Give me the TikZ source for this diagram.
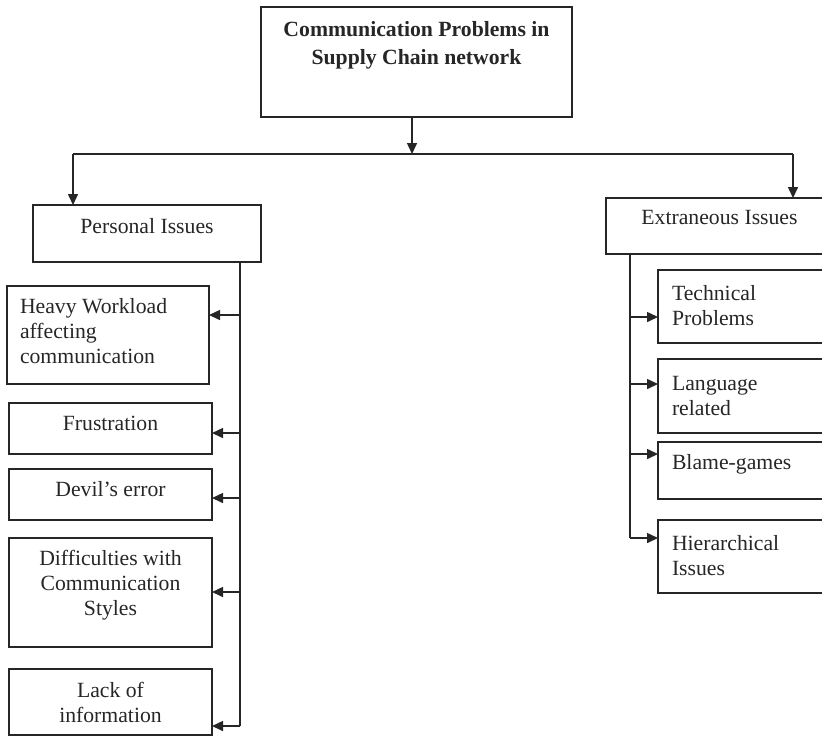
\documentclass[tikz,border=0pt]{standalone}
\usepackage{fontspec}
\setmainfont{Liberation Serif}
\usetikzlibrary{arrows.meta}
\begin{document}
\begin{tikzpicture}[x=0.5pt,y=-0.5pt,
  box/.style={draw=black!85,line width=0.8pt,inner sep=0pt,outer sep=0pt},
  txt/.style={inner sep=0pt,outer sep=0pt,text=black!85,font=\fontsize{10.85}{12.5}\selectfont},
  ttl/.style={inner sep=0pt,outer sep=0pt,text=black!85,font=\fontsize{10.85}{13.6}\selectfont\bfseries,align=center,anchor=base},
  ln/.style={draw=black!85,line width=0.75pt},
  arr/.style={ln,-{Triangle[length=5.5pt,width=5pt]}}]
\clip (0,0) rectangle (822,745);
% boxes
\node[box,minimum width=155.5pt,minimum height=55pt] (top) at (416.5,62) {};
\node[box,minimum width=114pt,minimum height=28.5pt] (pers) at (147,233.5) {};
\node[box,minimum width=113.5pt,minimum height=28pt] (extr) at (719.5,226) {};
\node[box,minimum width=101pt,minimum height=49pt] (heavy) at (108,335) {};
\node[box,minimum width=101.5pt,minimum height=25.5pt] (frust) at (110.5,428.5) {};
\node[box,minimum width=101.5pt,minimum height=25.5pt] (devil) at (110.5,494.5) {};
\node[box,minimum width=101.5pt,minimum height=54.5pt] (diff) at (110.5,592.5) {};
\node[box,minimum width=101.5pt,minimum height=33pt] (lack) at (110.5,702) {};
\node[box,minimum width=87.5pt,minimum height=36.5pt] (tech) at (745.5,306.5) {};
\node[box,minimum width=87.5pt,minimum height=37pt] (lang) at (745.5,396) {};
\node[box,minimum width=87.5pt,minimum height=28.5pt] (blame) at (745.5,470.5) {};
\node[box,minimum width=87.5pt,minimum height=36.5pt] (hier) at (745.5,556.5) {};
% texts (multi-line nodes: base = last line)
\node[ttl] (ttop) at (416.5,64) {Communication Problems in\\Supply Chain network};
\node[txt,anchor=base] (tpers) at (147,233) {Personal Issues};
\node[txt,anchor=base] (textr) at (719.5,224) {Extraneous Issues};
\node[txt,anchor=base west,align=left] (theavy) at (20,363) {Heavy Workload\\affecting\\communication};
\node[txt,anchor=base] (tfrust) at (110.5,430) {Frustration};
\node[txt,anchor=base] (tdevil) at (110.5,496) {Devil’s error};
\node[txt,anchor=base,align=center] (tdiff) at (110.5,615) {Difficulties with\\Communication\\Styles};
\node[txt,anchor=base,align=center] (tlack) at (110.5,722) {Lack of\\information};
\node[txt,anchor=base west,align=left] (ttech) at (672,325) {Technical\\Problems};
\node[txt,anchor=base west,align=left] (tlang) at (672,415) {Language\\related};
\node[txt,anchor=base west] (tblame) at (672,469) {Blame-games};
\node[txt,anchor=base west,align=left] (thier) at (672,575) {Hierarchical\\Issues};
% top connectors
\coordinate (hm) at (412,154);
\coordinate (hl) at (73,154);
\coordinate (hr) at (793,154);
\draw[arr] (top.south -| hm) -- (hm);
\draw[ln] (hl) -- (hr);
\draw[arr] (hl) -- (hl |- pers.north);
\draw[arr] (hr) -- (hr |- extr.north);
% personal branch
\coordinate (pv) at (240,262);
\coordinate (pe) at (240,726);
\draw[ln] (pv) -- (pe);
\coordinate (p1) at (240,315);
\coordinate (p2) at (240,433);
\coordinate (p3) at (240,498);
\coordinate (p4) at (240,592);
\draw[arr] (p1) -- (p1 -| heavy.east);
\draw[arr] (p2) -- (p2 -| frust.east);
\draw[arr] (p3) -- (p3 -| devil.east);
\draw[arr] (p4) -- (p4 -| diff.east);
\draw[arr] (pe) -- (pe -| lack.east);
% extraneous branch
\coordinate (ev) at (630,254);
\coordinate (ee) at (630,538);
\draw[ln] (ev) -- (ee);
\coordinate (e1) at (630,317);
\coordinate (e2) at (630,384);
\coordinate (e3) at (630,454);
\draw[arr] (e1) -- (e1 -| tech.west);
\draw[arr] (e2) -- (e2 -| lang.west);
\draw[arr] (e3) -- (e3 -| blame.west);
\draw[arr] (ee) -- (ee -| hier.west);
\end{tikzpicture}
\end{document}
